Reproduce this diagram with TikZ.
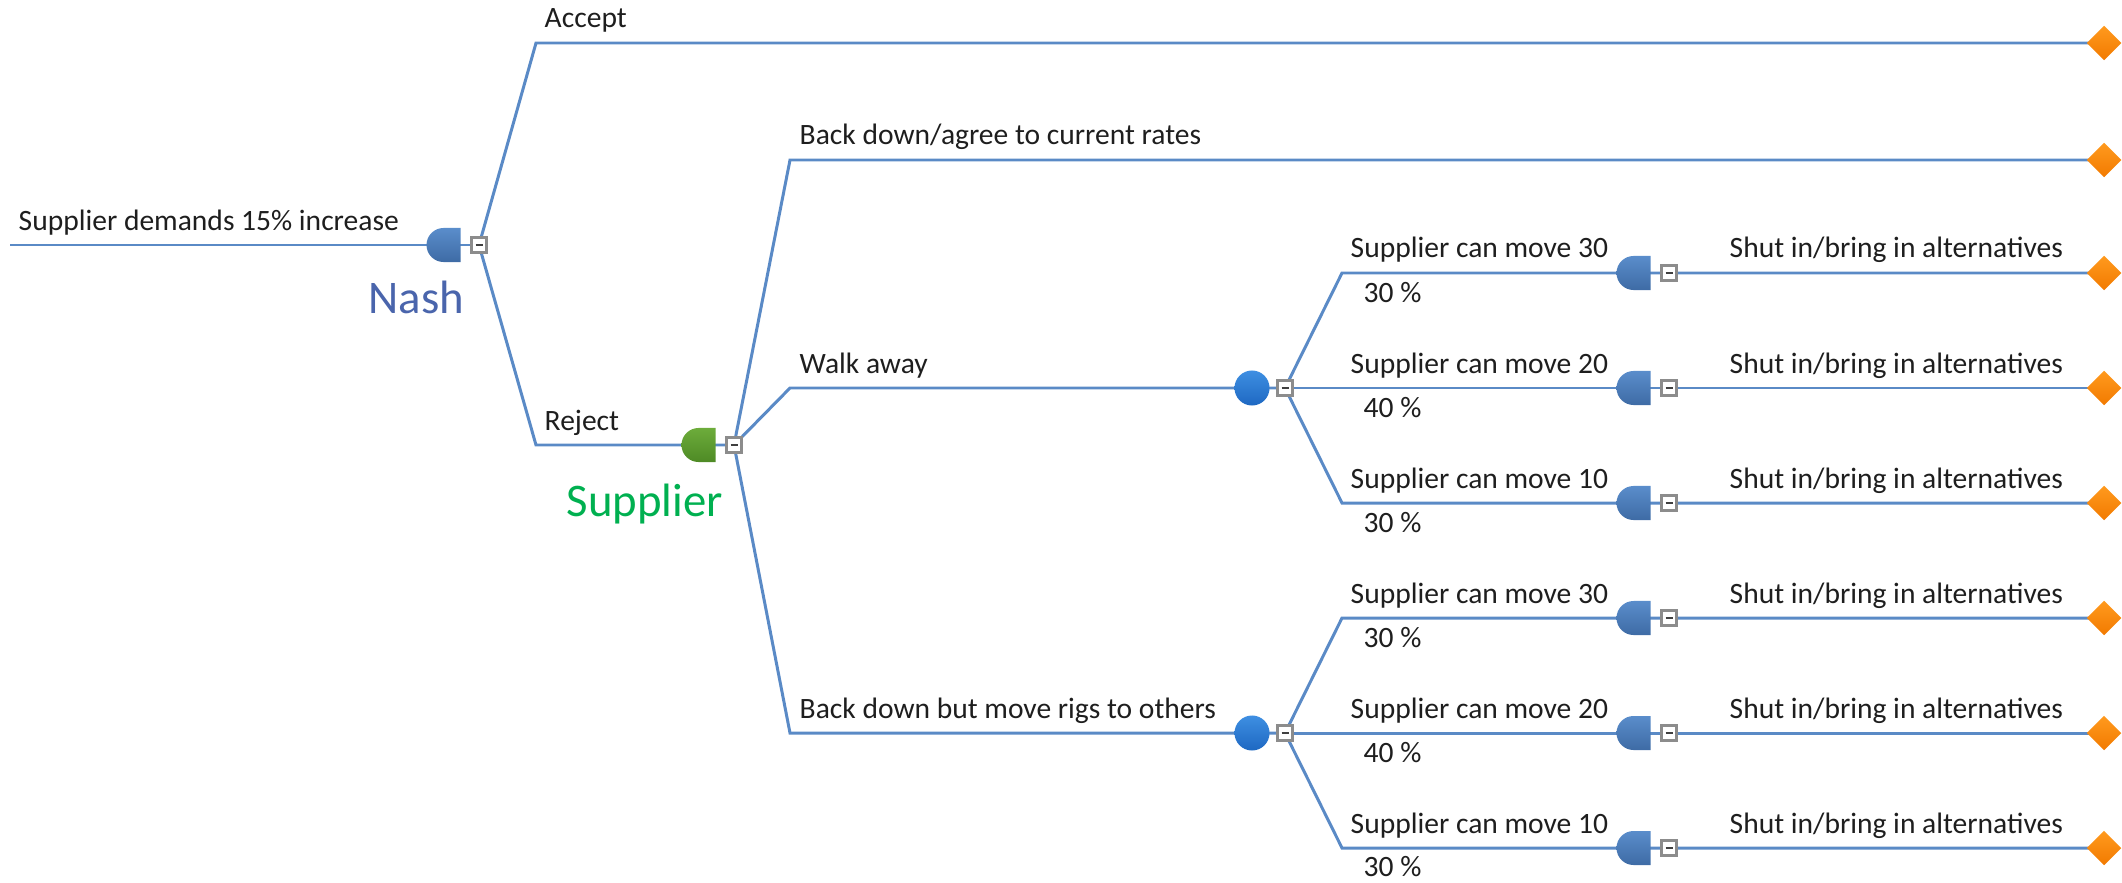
\documentclass[tikz,border=0pt]{standalone}
\usepackage{fontspec}
\setmainfont{Carlito}
\usetikzlibrary{positioning,backgrounds,shapes.geometric,shapes.misc}
\definecolor{linkblue}{HTML}{5A8AC6}
\definecolor{decblue}{HTML}{5A8DCB}
\definecolor{decbluedark}{HTML}{3E6BA5}
\definecolor{decgreen}{HTML}{6DAC3B}
\definecolor{decgreendark}{HTML}{4E8A25}
\definecolor{chanceblue}{HTML}{3E8FE2}
\definecolor{chancebluedark}{HTML}{1E68C2}
\definecolor{termorange}{HTML}{FF9A1E}
\definecolor{termorangedark}{HTML}{F27A00}
\definecolor{nashblue}{HTML}{4A65AC}
\definecolor{supgreen}{HTML}{00B050}
\definecolor{textblack}{HTML}{1E1E1E}

\begin{document}
\begin{tikzpicture}[x=0.01cm,y=-0.01cm,
 branch/.style={draw=linkblue,line width=0.85pt},
 dec/.style={rounded rectangle,rounded rectangle right arc=none,minimum width=0.32cm,minimum height=0.34cm,inner sep=0pt,top color=decblue,bottom color=decbluedark},
 decg/.style={dec,top color=decgreen,bottom color=decgreendark},
 chance/.style={circle,minimum size=0.35cm,inner sep=0pt,top color=chanceblue,bottom color=chancebluedark},
 term/.style={diamond,minimum width=0.35cm,minimum height=0.35cm,inner sep=0pt,top color=termorange,bottom color=termorangedark},
 box/.style={rectangle,draw=black!45,fill=white,line width=0.6pt,minimum size=0.15cm,inner sep=0pt,
  path picture={\draw[black!75,line width=0.5pt] ([xshift=-0.035cm]path picture bounding box.center) -- ([xshift=0.035cm]path picture bounding box.center);}},
 lbl/.style={anchor=base west,inner sep=0pt,text=textblack,font=\fontsize{8.4}{10}\selectfont},
 player/.style={anchor=base west,inner sep=0pt,font=\fontsize{13.3}{15}\selectfont}]
\useasboundingbox (0,0) rectangle (2122,882);

% first move: Nash
\coordinate (start) at (10,245);
\node[lbl] (lroot) at (18,230) {Supplier demands 15\% increase};
\node[dec] (nash) at (443.5,245) {};
\node[box] (nashbox) at (479,245) {};
\node[player,text=nashblue] (nashname) at (368,313) {Nash};

\coordinate (acc) at (536,43);
\node[lbl] (lacc) at (544,28) {Accept};
\node[term] (accend) at (2104,43) {};

\coordinate (rej) at (536,445);
\node[lbl] (lrej) at (544,430) {Reject};
\node[decg] (sup) at (698.5,445) {};
\node[box] (supbox) at (734,445) {};
\node[player,text=supgreen] (supname) at (566,516) {Supplier};

% supplier answers
\coordinate (agr) at (790,160);
\node[lbl] (lagr) at (799,145) {Back down/agree to current rates};
\node[term] (agrend) at (2104,160) {};

\coordinate (walk) at (790,388);
\node[lbl] (lwalk) at (799,373) {Walk away};
\node[chance] (walkc) at (1252,388) {};
\node[box] (walkbox) at (1285,388) {};

\coordinate (move) at (790,733);
\node[lbl] (lmove) at (799,718) {Back down but move rigs to others};
\node[chance] (movec) at (1252,733) {};
\node[box] (movebox) at (1285,733) {};

% outcomes after walk away
\coordinate (wa) at (1342,273);
\node[lbl] (lwa) at (1350,258) {Supplier can move 30};
\node[lbl] (pwa) at (1363,302) {30 \%};
\node[dec] (wad) at (1633.5,273) {};
\node[box] (wab) at (1669,273) {};
\node[lbl] (swa) at (1729,258) {Shut in/bring in alternatives};
\node[term] (wae) at (2104,273) {};

\coordinate (wb) at (1342,388);
\node[lbl] (lwb) at (1350,373) {Supplier can move 20};
\node[lbl] (pwb) at (1363,417) {40 \%};
\node[dec] (wbd) at (1633.5,388) {};
\node[box] (wbb) at (1669,388) {};
\node[lbl] (swb) at (1729,373) {Shut in/bring in alternatives};
\node[term] (wbe) at (2104,388) {};

\coordinate (wc) at (1342,503);
\node[lbl] (lwc) at (1350,488) {Supplier can move 10};
\node[lbl] (pwc) at (1363,532) {30 \%};
\node[dec] (wcd) at (1633.5,503) {};
\node[box] (wcb) at (1669,503) {};
\node[lbl] (swc) at (1729,488) {Shut in/bring in alternatives};
\node[term] (wce) at (2104,503) {};

% outcomes after moving rigs
\coordinate (ma) at (1342,618);
\node[lbl] (lma) at (1350,603) {Supplier can move 30};
\node[lbl] (pma) at (1363,647) {30 \%};
\node[dec] (mad) at (1633.5,618) {};
\node[box] (mab) at (1669,618) {};
\node[lbl] (sma) at (1729,603) {Shut in/bring in alternatives};
\node[term] (mae) at (2104,618) {};

\coordinate (mb) at (1342,733);
\node[lbl] (lmb) at (1350,718) {Supplier can move 20};
\node[lbl] (pmb) at (1363,762) {40 \%};
\node[dec] (mbd) at (1633.5,733) {};
\node[box] (mbb) at (1669,733) {};
\node[lbl] (smb) at (1729,718) {Shut in/bring in alternatives};
\node[term] (mbe) at (2104,733) {};

\coordinate (mc) at (1342,848);
\node[lbl] (lmc) at (1350,833) {Supplier can move 10};
\node[lbl] (pmc) at (1363,876) {30 \%};
\node[dec] (mcd) at (1633.5,848) {};
\node[box] (mcb) at (1669,848) {};
\node[lbl] (smc) at (1729,833) {Shut in/bring in alternatives};
\node[term] (mce) at (2104,848) {};

\begin{scope}[on background layer]
\draw[branch] (start) -- (nash.center) -- (nashbox.center);
\draw[branch] (nashbox.center) -- (acc) -- (accend.center);
\draw[branch] (nashbox.center) -- (rej) -- (sup.center) -- (supbox.center);
\draw[branch] (supbox.center) -- (agr) -- (agrend.center);
\draw[branch] (supbox.center) -- (walk) -- (walkc.center) -- (walkbox.center);
\draw[branch] (supbox.center) -- (move) -- (movec.center) -- (movebox.center);
\draw[branch] (walkbox.center) -- (wa) -- (wad.center) -- (wab.center) -- (wae.center);
\draw[branch] (walkbox.center) -- (wb) -- (wbd.center) -- (wbb.center) -- (wbe.center);
\draw[branch] (walkbox.center) -- (wc) -- (wcd.center) -- (wcb.center) -- (wce.center);
\draw[branch] (movebox.center) -- (ma) -- (mad.center) -- (mab.center) -- (mae.center);
\draw[branch] (movebox.center) -- (mb) -- (mbd.center) -- (mbb.center) -- (mbe.center);
\draw[branch] (movebox.center) -- (mc) -- (mcd.center) -- (mcb.center) -- (mce.center);
\end{scope}
\end{tikzpicture}
\end{document}
